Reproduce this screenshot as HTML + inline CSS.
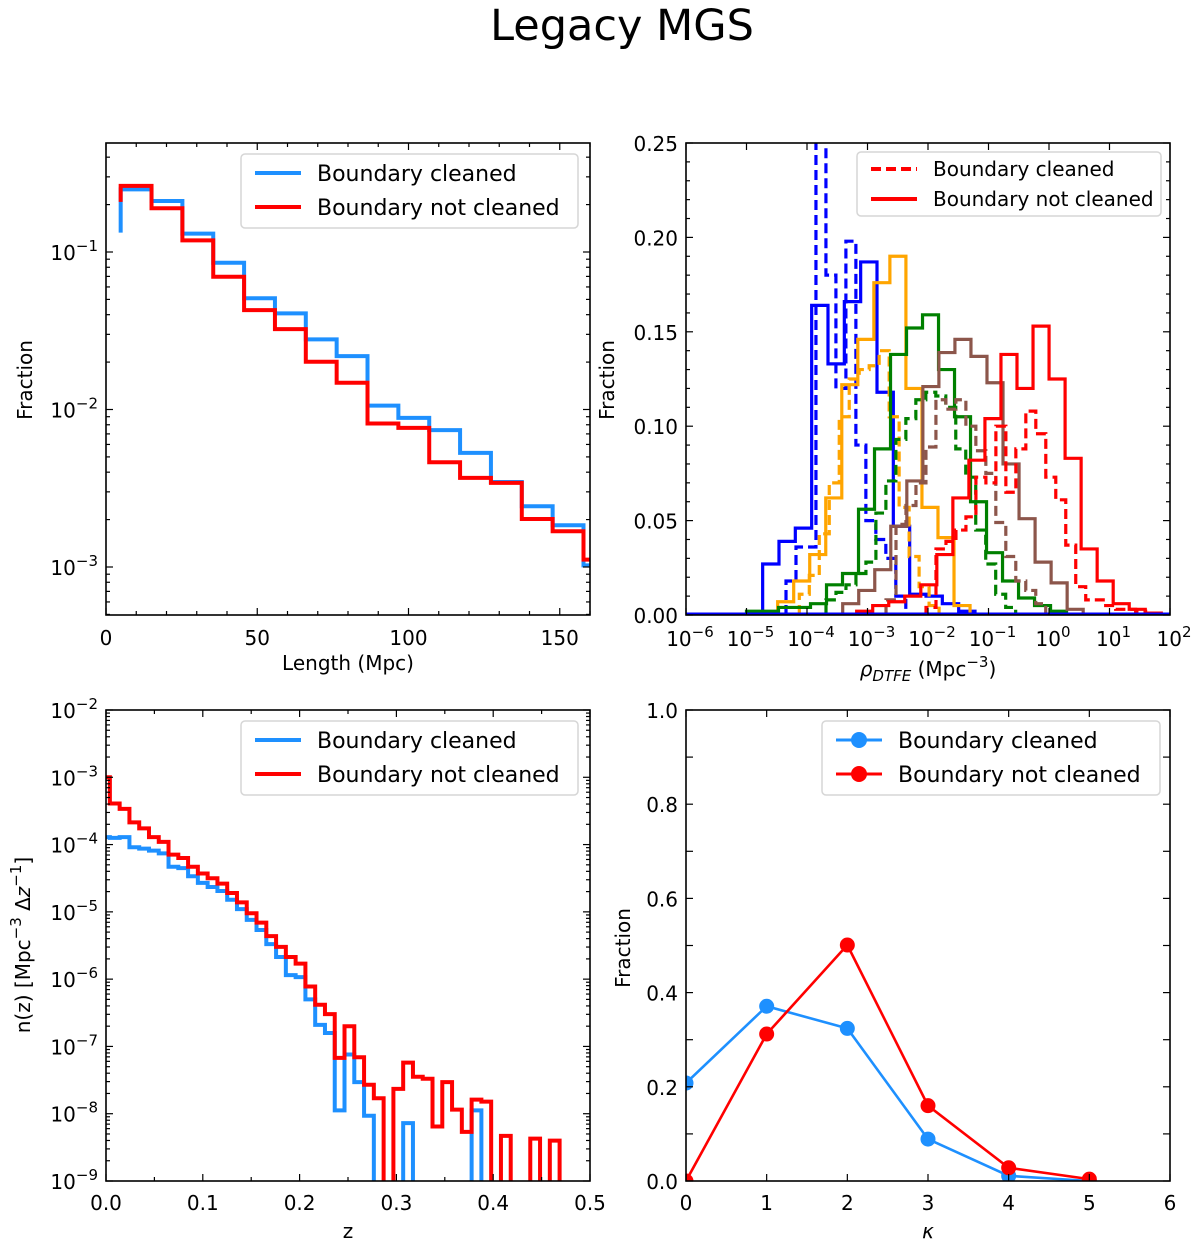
<!DOCTYPE html>
<html><head><meta charset="utf-8"><style>
html,body{margin:0;padding:0;background:#fff;overflow:hidden;width:1200px;height:1249px;}
svg{display:block;font-family:"DejaVu Sans","Liberation Sans",sans-serif;}
</style></head><body>
<svg id="fig" width="1200" height="1249" viewBox="0 0 1200 1249" xmlns="http://www.w3.org/2000/svg">
<text x="622" y="40" font-size="43" text-anchor="middle">Legacy MGS</text>
</svg>
<script>
// ---------- Panel 1 data (Length histogram, log10 fraction) ----------
const lenEdgeStart = 4.85;
const lenBinWidth = 10.2;
const lenBlueStartLog = -0.877;
const lenBlueLog = [-0.602,-0.676,-0.883,-1.068,-1.294,-1.39,-1.555,-1.661,-1.975,-2.053,-2.131,-2.275,-2.46,-2.614,-2.735,-2.99];
const lenRedStartLog = -0.682;
const lenRedLog = [-0.58,-0.722,-0.926,-1.157,-1.369,-1.49,-1.697,-1.83,-2.089,-2.117,-2.335,-2.434,-2.466,-2.695,-2.773,-2.953];
const lenXTicks = [0,50,100,150];
const lenYTickExp = [-1,-2,-3];

// ---------- Panel 2 data (rho_DTFE histograms) ----------
const rhoXTickExp = [-6,-5,-4,-3,-2,-1,0,1,2];
const rhoYTicks = [0.00,0.05,0.10,0.15,0.20,0.25];
const rhoStarts = [-4.733,-4.347,-4.485,-4.127,-5.0,-3.686,-3.41,-2.694,-3.179,-2.033];
const rhoWidths = [0.27,0.165,0.265,0.165,0.2645,0.165,0.265,0.165,0.265,0.165];
const rhoColors = ["#0000ff","#0000ff","#ffa500","#ffa500","#008000","#008000","#8c564b","#8c564b","#ff0000","#ff0000"];
const rhoDashed = [false,true,false,true,false,true,false,true,false,true];
const rhoBlueSolid = [0.027,0.039,0.046,0.164,0.133,0.166,0.187,0.118,0.047,0.011,0.01,0.006,0.002];
const rhoBlueDashed = [0.018,0.036,0.036,0.26,0.18,0.12,0.198,0.09,0.05,0.04,0.03,0.01];
const rhoOrangeSolid = [0.007,0.018,0.032,0.062,0.122,0.146,0.176,0.19,0.12,0.057,0.041,0.005];
const rhoOrangeDashed = [0.011,0.021,0.043,0.07,0.105,0.125,0.13,0.132,0.14,0.105,0.057,0.031,0.015,0.005];
const rhoGreenSolid = [0.002,0.002,0.004,0.004,0.006,0.016,0.022,0.056,0.088,0.138,0.152,0.159,0.13,0.105,0.06,0.033,0.018,0.009,0.005,0.002];
const rhoGreenDashed = [0.008,0.012,0.016,0.022,0.028,0.054,0.071,0.093,0.104,0.114,0.118,0.116,0.11,0.088,0.073,0.045,0.027,0.011,0.004];
const rhoBrownSolid = [0.006,0.013,0.024,0.047,0.071,0.121,0.139,0.146,0.137,0.123,0.08,0.051,0.028,0.017,0.003];
const rhoBrownDashed = [0.008,0.048,0.058,0.07,0.089,0.114,0.109,0.114,0.1,0.087,0.075,0.049,0.031,0.018,0.013,0.006];
const rhoRedSolid = [0.002,0.005,0.007,0.01,0.016,0.032,0.062,0.082,0.104,0.138,0.12,0.153,0.125,0.083,0.035,0.018,0.006,0.003,0.001];
const rhoRedDashed = [0.004,0.035,0.039,0.045,0.052,0.073,0.07,0.1,0.065,0.088,0.108,0.096,0.073,0.061,0.037,0.015,0.008,0.008,0.005,0.003,0.003,0.002];
const rhoSeriesNames = ["blue-solid","blue-dashed","orange-solid","orange-dashed","green-solid","green-dashed","brown-solid","brown-dashed","red-solid","red-dashed"];

// ---------- Panel 3 data (n(z), log10) ----------
const nzEdgeStart = 0.004;
const nzBinWidth = 0.0101;
const nzRedFirstLog = -3.0;
const nzBlueFirstLog = -3.89;
const nzRedLog = [-3.39,-3.47,-3.67,-3.76,-3.89,-3.96,-4.15,-4.2,-4.33,-4.43,-4.5,-4.58,-4.72,-4.86,-5.02,-5.16,-5.36,-5.52,-5.67,-5.77,-6.11,-6.38,-6.52,-7.17,-6.7,-7.16,-7.57,-7.77,-12,-7.63,-7.24,-7.45,-7.48,-8.19,-7.53,-7.94,-8.27,-7.79,-7.82,-12,-8.33,-12,-12,-8.37,-12,-8.4];
const nzBlueLog = [-3.9,-3.89,-4.04,-4.06,-4.09,-4.13,-4.33,-4.35,-4.47,-4.57,-4.63,-4.69,-4.82,-4.96,-5.12,-5.27,-5.48,-5.67,-5.94,-5.97,-6.3,-6.68,-6.8,-7.95,-7.12,-7.53,-8.03,-12,-12,-12,-8.14,-12,-12,-12,-12,-12,-12,-7.95,-12];
const nzXTicks = [0.0,0.1,0.2,0.3,0.4,0.5];
const nzYTickExp = [-2,-3,-4,-5,-6,-7,-8,-9];

// ---------- Panel 4 data (kappa) ----------
const kappaCats = [0,1,2,3,4,5];
const kappaBlue = [0.208,0.371,0.324,0.089,0.011,0.0];
const kappaRed = [0.0,0.312,0.501,0.16,0.028,0.004];
const kappaXTicks = [0,1,2,3,4,5,6];
const kappaYTicks = [0.0,0.2,0.4,0.6,0.8,1.0];

const NS = "http://www.w3.org/2000/svg";
const svg = document.getElementById('fig');
function mk(tag, attrs, parent){
  const e = document.createElementNS(NS, tag);
  for (const k in attrs) e.setAttribute(k, attrs[k]);
  (parent||svg).appendChild(e);
  return e;
}
function powLabel(x, y, exp, anchor, parent){
  const t = mk('text', {x:x, y:y, 'font-size':20, 'text-anchor':anchor}, parent);
  const a = document.createElementNS(NS,'tspan'); a.textContent='10'; t.appendChild(a);
  const b = document.createElementNS(NS,'tspan'); b.setAttribute('dy','-9'); b.setAttribute('font-size','15');
  b.textContent = (exp<0?'\u2212':'') + Math.abs(exp); t.appendChild(b);
  return t;
}
function frame(P, name){
  const g = mk('g', {});
  
  
  const cp = mk('clipPath', {id:'clip-'+name});
  mk('rect', {x:P.x0, y:P.y0, width:P.x1-P.x0, height:P.y1-P.y0}, cp);
  return g;
}
function box(P, g){
  const r = mk('rect', {x:P.x0, y:P.y0, width:P.x1-P.x0, height:P.y1-P.y0, fill:'none', stroke:'#000', 'stroke-width':1.6}, g);
  
  
}
function xtick(P, px, len, g){
  mk('line',{x1:px,y1:P.y1,x2:px,y2:P.y1-len,stroke:'#000','stroke-width':1.2},g);
  mk('line',{x1:px,y1:P.y0,x2:px,y2:P.y0+len,stroke:'#000','stroke-width':1.2},g);
}
function ytick(P, py, len, g){
  mk('line',{x1:P.x0,y1:py,x2:P.x0+len,y2:py,stroke:'#000','stroke-width':1.2},g);
  mk('line',{x1:P.x1,y1:py,x2:P.x1-len,y2:py,stroke:'#000','stroke-width':1.2},g);
}
function stepPath(xs, ys, startY, endY){
  let d = 'M'+xs[0]+','+startY;
  for (let i=0;i<ys.length;i++){ d += ' L'+xs[i]+','+ys[i]+' L'+xs[i+1]+','+ys[i]; }
  if (endY!==null) d += ' L'+xs[ys.length]+','+endY;
  return d;
}
function legend(g, x, y, w, h, rows, fs, rowGap, lineLen, marker){
  const lg = mk('g', {}, g);
  
  
  mk('rect',{x:x,y:y,width:w,height:h,rx:4,fill:'#fff','fill-opacity':0.8,stroke:'#d6d6d6','stroke-width':1.5},lg);
  rows.forEach((r,i)=>{
    const cy = y + rowGap*0.5 + 2 + i*rowGap;
    const e = mk('g', {}, lg);
    
    
    mk('line',{x1:x+14,y1:cy,x2:x+14+lineLen,y2:cy,stroke:r.color,'stroke-width':r.sw||4,'stroke-dasharray':r.dash||'none'},e);
    if (marker) mk('circle',{cx:x+14+lineLen/2,cy:cy,r:8,fill:r.color},e);
    const t = mk('text',{x:x+14+lineLen+16,y:cy+fs*0.36,'font-size':fs},e);
    t.textContent = r.label;
  });
}

// ===== Panel 1 =====
(function(){
  const P = {x0:106,x1:590,y0:143,y1:615};
  const g = frame(P,'length-panel');
  const X = v => P.x0 + v/160*(P.x1-P.x0);
  const Y = l => 252 - (l+1)*157.5;
  const cl = 'url(#clip-length-panel)';
  const edges = lenBlueLog.map((_,i)=>X(lenEdgeStart+i*lenBinWidth)); edges.push(X(lenEdgeStart+lenBlueLog.length*lenBinWidth));
  const pb = mk('path',{d:stepPath(edges, lenBlueLog.map(Y), Y(lenBlueStartLog), null),fill:'none',stroke:'#1e90ff','stroke-width':4,'clip-path':cl},g);
  
  
  const pr = mk('path',{d:stepPath(edges, lenRedLog.map(Y), Y(lenRedStartLog), null),fill:'none',stroke:'#ff0000','stroke-width':4,'clip-path':cl},g);
  
  
  box(P,g);
  for (let v=0; v<=160; v+=10) xtick(P, X(v), v%50===0?7:4, g);
  lenXTicks.forEach(v=>{ const t=mk('text',{x:X(v),y:P.y1+30,'font-size':20,'text-anchor':'middle'},g); t.textContent=v; });
  for (let e=-4;e<=0;e++) for (let m=1;m<10;m++){ const py=Y(e+Math.log10(m)); if(py>=P.y0&&py<=P.y1) ytick(P,py,m===1?7:4,g); }
  lenYTickExp.forEach(e=>powLabel(P.x0-8, Y(e)+8, e, 'end', g));
  const xl = mk('text',{x:348,y:670,'font-size':20,'text-anchor':'middle'},g); xl.textContent='Length (Mpc)';
   
  const yl = mk('text',{x:32,y:380,'font-size':20,'text-anchor':'middle',transform:'rotate(-90 32 380)'},g); yl.textContent='Fraction';
   
  legend(g, 241, 154, 337, 74, [{color:'#1e90ff',label:'Boundary cleaned'},{color:'#ff0000',label:'Boundary not cleaned'}], 22, 34, 46, false);
})();

// ===== Panel 2 =====
(function(){
  const P = {x0:686,x1:1170,y0:143,y1:615};
  const g = frame(P,'rho-panel');
  const X = l => P.x0 + (l+6)*60.5;
  const Y = v => P.y1 - v/0.25*(P.y1-P.y0);
  const cl = 'url(#clip-rho-panel)';
  const series = [rhoBlueSolid,rhoBlueDashed,rhoOrangeSolid,rhoOrangeDashed,rhoGreenSolid,rhoGreenDashed,rhoBrownSolid,rhoBrownDashed,rhoRedSolid,rhoRedDashed];
  series.forEach((vals, k)=>{
    const edges = []; for (let i=0;i<=vals.length;i++) edges.push(X(rhoStarts[k]+i*rhoWidths[k]));
    const p = mk('path',{d:stepPath(edges, vals.map(Y), Y(0), Y(0)),fill:'none',stroke:rhoColors[k],'stroke-width':3.2,'stroke-dasharray':rhoDashed[k]?'10,5':'none','clip-path':cl},g);
    
    
  });
  mk('line',{x1:P.x0,y1:P.y1-1,x2:P.x1,y2:P.y1-1,stroke:'#0000ff','stroke-width':3},g);
  box(P,g);
  rhoXTickExp.forEach(e=>{ xtick(P,X(e),7,g); powLabel(X(e)+4, P.y1+31, e, 'middle', g); });
  for (let v=0; v<=0.2501; v+=0.01) ytick(P, Y(v), Math.round(v*100)%5===0?7:4, g);
  rhoYTicks.forEach(v=>{ const t=mk('text',{x:P.x0-8,y:Y(v)+8,'font-size':20,'text-anchor':'end'},g); t.textContent=v.toFixed(2); });
  const xl = mk('text',{x:928,y:676,'font-size':20,'text-anchor':'middle'},g);
   
  const a=document.createElementNS(NS,'tspan'); a.setAttribute('font-style','italic'); a.textContent='\u03c1'; xl.appendChild(a);
  const b=document.createElementNS(NS,'tspan'); b.setAttribute('font-style','italic'); b.setAttribute('font-size','15'); b.setAttribute('dy','5'); b.textContent='DTFE'; xl.appendChild(b);
  const c=document.createElementNS(NS,'tspan'); c.setAttribute('dy','-5'); c.textContent=' (Mpc'; xl.appendChild(c);
  const d=document.createElementNS(NS,'tspan'); d.setAttribute('dy','-9'); d.setAttribute('font-size','15'); d.textContent='\u22123'; xl.appendChild(d);
  const f=document.createElementNS(NS,'tspan'); f.setAttribute('dy','9'); f.textContent=')'; xl.appendChild(f);
  const yl = mk('text',{x:614,y:380,'font-size':20,'text-anchor':'middle',transform:'rotate(-90 614 380)'},g); yl.textContent='Fraction';
   
  legend(g, 857, 152, 304, 64, [{color:'#ff0000',label:'Boundary cleaned',dash:'10,5'},{color:'#ff0000',label:'Boundary not cleaned'}], 20, 30, 46, false);
})();

// ===== Panel 3 =====
(function(){
  const P = {x0:106,x1:590,y0:710,y1:1181};
  const g = frame(P,'nz-panel');
  const X = v => P.x0 + v/0.5*(P.x1-P.x0);
  const Y = l => P.y1 - (l+9)*(P.y1-P.y0)/7;
  const cl = 'url(#clip-nz-panel)';
  function draw(vals, first, color, name){
    const edges=[X(0)]; const ys=[Y(first)];
    for (let i=0;i<=vals.length;i++) edges.push(X(nzEdgeStart+i*nzBinWidth));
    vals.forEach(v=>ys.push(Y(v)));
    const p = mk('path',{d:stepPath(edges, ys, Y(first), Y(-12)),fill:'none',stroke:color,'stroke-width':4,'clip-path':cl},g);
    
    
  }
  draw(nzBlueLog, nzBlueFirstLog, '#1e90ff', 'nz-boundary-cleaned-line');
  draw(nzRedLog, nzRedFirstLog, '#ff0000', 'nz-boundary-not-cleaned-line');
  box(P,g);
  for (let i=0;i<=10;i++) xtick(P, X(i*0.05), i%2===0?7:4, g);
  nzXTicks.forEach(v=>{ const t=mk('text',{x:X(v),y:P.y1+29,'font-size':20,'text-anchor':'middle'},g); t.textContent=v.toFixed(1); });
  for (let e=-9;e<-2;e++) for (let m=1;m<10;m++) ytick(P, Y(e+Math.log10(m)), m===1?7:4, g);
  ytick(P, Y(-2), 7, g);
  nzYTickExp.forEach(e=>powLabel(P.x0-8, Y(e)+8, e, 'end', g));
  const xl = mk('text',{x:348,y:1238,'font-size':20,'text-anchor':'middle'},g); xl.textContent='z';
   
  const yl = mk('text',{x:0,y:0,'font-size':20,'text-anchor':'middle',transform:'translate(30 945) rotate(-90)'},g);
   
  const parts=[['n(z) [Mpc',0,null],['\u22123',-9,'15'],[' \u0394',9,null],['z','0','it'],['\u22121',-9,'15'],[']',9,null]];
  parts.forEach(p=>{ const s=document.createElementNS(NS,'tspan'); s.textContent=p[0]; if(p[1]) s.setAttribute('dy',p[1]); if(p[2]==='15') s.setAttribute('font-size','15'); if(p[2]==='it') s.setAttribute('font-style','italic'); yl.appendChild(s); });
  legend(g, 241, 721, 337, 74, [{color:'#1e90ff',label:'Boundary cleaned'},{color:'#ff0000',label:'Boundary not cleaned'}], 22, 34, 46, false);
})();

// ===== Panel 4 =====
(function(){
  const P = {x0:686,x1:1170,y0:710,y1:1181};
  const g = frame(P,'kappa-panel');
  const X = v => P.x0 + v/6*(P.x1-P.x0);
  const Y = v => P.y1 - v*(P.y1-P.y0);
  function draw(vals, color, name){
    const sg = mk('g',{'clip-path':'url(#clip-kappa-panel)'},g);
    
    
    mk('polyline',{points:kappaCats.map((c,i)=>X(c)+','+Y(vals[i])).join(' '),fill:'none',stroke:color,'stroke-width':2.6},sg);
    kappaCats.forEach((c,i)=>{
      const pt = mk('circle',{cx:X(c),cy:Y(vals[i]),r:7.5,fill:color},sg);
      
      
    });
  }
  draw(kappaBlue,'#1e90ff','kappa-boundary-cleaned-series');
  draw(kappaRed,'#ff0000','kappa-boundary-not-cleaned-series');
  box(P,g);
  kappaXTicks.forEach(v=>{ xtick(P,X(v),7,g); const t=mk('text',{x:X(v),y:P.y1+29,'font-size':20,'text-anchor':'middle'},g); t.textContent=v; });
  for (let i=0;i<=10;i++) ytick(P, Y(i/10), 7, g);
  kappaYTicks.forEach(v=>{ const t=mk('text',{x:P.x0-8,y:Y(v)+8,'font-size':20,'text-anchor':'end'},g); t.textContent=v.toFixed(1); });
  const xl = mk('text',{x:928,y:1238,'font-size':20,'text-anchor':'middle','font-style':'italic'},g); xl.textContent='\u03ba';
   
  const yl = mk('text',{x:630,y:948,'font-size':20,'text-anchor':'middle',transform:'rotate(-90 630 948)'},g); yl.textContent='Fraction';
   
  legend(g, 822, 721, 338, 74, [{color:'#1e90ff',label:'Boundary cleaned',sw:3},{color:'#ff0000',label:'Boundary not cleaned',sw:3}], 22, 34, 46, true);
})();
</script>
</body></html>
